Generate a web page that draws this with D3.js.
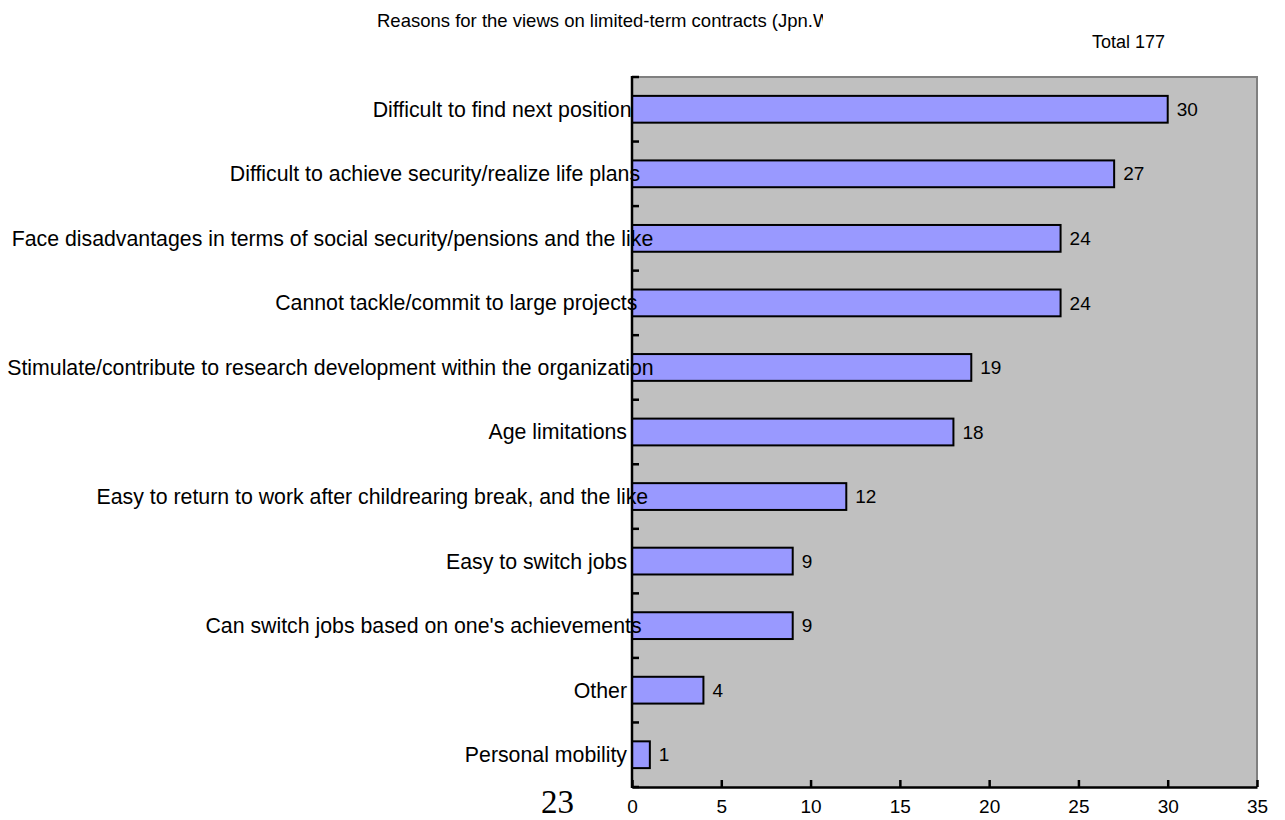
<!DOCTYPE html>
<html><head><meta charset="utf-8">
<script src="https://cdn.jsdelivr.net/npm/d3@7"></script>
<style>body{margin:0;background:#fff;} svg{display:block;font-family:Arial,"Liberation Sans",sans-serif;}</style>
</head><body><svg id="c" width="1285" height="820"></svg>
<script>
const categories = [
  "Difficult to find next position",
  "Difficult to achieve security/realize life plans",
  "Face disadvantages in terms of social security/pensions and the like",
  "Cannot tackle/commit to large projects",
  "Stimulate/contribute to research development within the organization",
  "Age limitations",
  "Easy to return to work after childrearing break, and the like",
  "Easy to switch jobs",
  "Can switch jobs based on one's achievements",
  "Other",
  "Personal mobility"
];
const values = [30, 27, 24, 24, 19, 18, 12, 9, 9, 4, 1];
const xTicks = [0, 5, 10, 15, 20, 25, 30, 35];
const titleText = "Reasons for the views on limited-term contracts (Jpn.W";
const totalText = "Total 177";
const pageNumber = "23";

(function () {
const svg = d3.select("#c");
const pLeft = 632, pRight = 1257, pTop = 77, pBottom = 787;
const x = d3.scaleLinear().domain([0, 35]).range([pLeft, pRight]);
const y = d3.scaleBand().domain(categories).range([pTop, pBottom]).paddingInner(0.585).paddingOuter(0.2925);

svg.append("rect").attr("x", pLeft).attr("y", pTop).attr("width", pRight - pLeft).attr("height", pBottom - pTop)
  .attr("fill", "#c0c0c0");
svg.append("path").attr("d", `M${pLeft},${pTop}H${pRight}V${pBottom}`).attr("fill", "none")
  .attr("stroke", "#808080").attr("stroke-width", 2);

svg.selectAll("rect.bar").data(values).enter().append("rect").attr("class", "bar")
  .attr("x", x(0)).attr("y", (d, i) => y(categories[i]))
  .attr("width", d => x(d) - x(0)).attr("height", y.bandwidth())
  .attr("fill", "#9999ff").attr("stroke", "#000").attr("stroke-width", 2);

svg.selectAll("text.val").data(values).enter().append("text").attr("class", "val")
  .attr("x", d => x(d) + 9).attr("y", (d, i) => y(categories[i]) + y.bandwidth() / 2)
  .attr("dy", "0.35em").attr("font-size", 19).attr("fill", "#000").text(d => d);

const xAxis = d3.axisBottom(x).tickValues(xTicks).tickSizeInner(-7).tickSizeOuter(0).tickPadding(13);
const gx = svg.append("g").attr("transform", `translate(0,${pBottom})`).call(xAxis);
gx.select(".domain").attr("stroke", "#000").attr("stroke-width", 2.5);
gx.selectAll(".tick line").attr("stroke", "#000").attr("stroke-width", 2.5);
gx.selectAll(".tick text").attr("font-size", 19).attr("font-family", "Arial, 'Liberation Sans', sans-serif").attr("fill", "#000");

const bounds = d3.range(categories.length + 1).map(i => pTop + i * y.step());
svg.append("line").attr("x1", pLeft).attr("x2", pLeft).attr("y1", pTop - 1).attr("y2", pBottom + 1)
  .attr("stroke", "#000").attr("stroke-width", 2.5);
svg.selectAll("line.yt").data(bounds).enter().append("line").attr("class", "yt")
  .attr("x1", pLeft).attr("x2", pLeft + 7).attr("y1", d => d).attr("y2", d => d)
  .attr("stroke", "#000").attr("stroke-width", 2.5);

const labelEnd = 627;
svg.selectAll("text.cat").data(categories).enter().append("text").attr("class", "cat")
  .attr("y", d => y(d) + y.bandwidth() / 2).attr("dy", "0.35em")
  .attr("font-size", 21.3).attr("fill", "#000").text(d => d)
  .each(function () {
    const w = this.getComputedTextLength();
    const overflow = Math.max(0, 0.057 * (w - 180));
    d3.select(this).attr("x", labelEnd + overflow - w);
  });

svg.append("clipPath").attr("id", "tclip").append("rect").attr("x", 0).attr("y", 0).attr("width", 823).attr("height", 60);
svg.append("text").attr("x", 377).attr("y", 27).attr("font-size", 18.5).attr("fill", "#000")
  .attr("clip-path", "url(#tclip)").text(titleText);

svg.append("text").attr("x", 1165).attr("y", 48).attr("text-anchor", "end").attr("font-size", 18)
  .attr("fill", "#000").text(totalText);

svg.append("text").attr("x", 541).attr("y", 813).attr("font-size", 33)
  .attr("font-family", "'Liberation Serif','Times New Roman',serif").attr("fill", "#000").text(pageNumber);
})();
</script></body></html>
